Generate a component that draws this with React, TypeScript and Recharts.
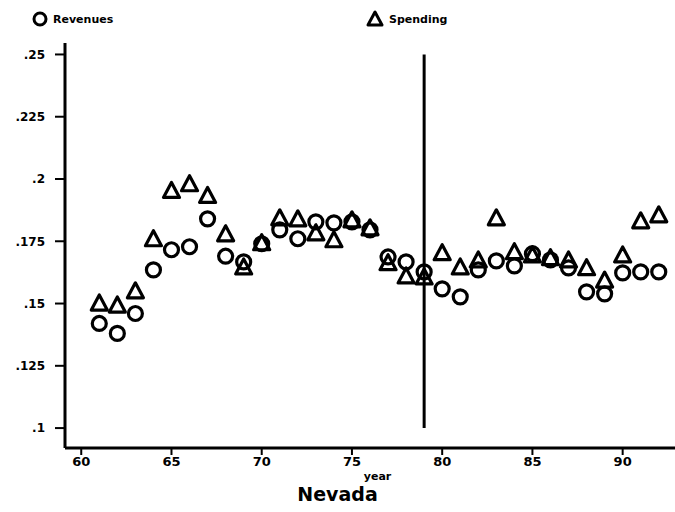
import { ScatterChart, Scatter, XAxis, YAxis, ReferenceLine } from 'recharts';

const years = [61, 62, 63, 64, 65, 66, 67, 68, 69, 70, 71, 72, 73, 74, 75, 76, 77, 78, 79, 80, 81, 82, 83, 84, 85, 86, 87, 88, 89, 90, 91, 92];
const revenues = [0.142, 0.138, 0.146, 0.1635, 0.1716, 0.1728, 0.184, 0.169, 0.1667, 0.174, 0.1796, 0.176, 0.1828, 0.1824, 0.1828, 0.1796, 0.1687, 0.1667, 0.1627, 0.1559, 0.1527, 0.1635, 0.1671, 0.1651, 0.17, 0.1675, 0.1643, 0.1547, 0.1539, 0.1623, 0.1627, 0.1627];
const spending = [0.1498, 0.149, 0.1547, 0.1756, 0.195, 0.1977, 0.193, 0.1776, 0.1643, 0.174, 0.184, 0.1836, 0.178, 0.1752, 0.1832, 0.18, 0.166, 0.1607, 0.1603, 0.17, 0.1643, 0.1671, 0.184, 0.1704, 0.1691, 0.168, 0.1671, 0.164, 0.159, 0.1691, 0.1828, 0.1852];
const xTicks = [60, 65, 70, 75, 80, 85, 90];
const yTicks = [0.1, 0.125, 0.15, 0.175, 0.2, 0.225, 0.25];
const breakYear = 79;

const revData = years.map((year, i) => ({ year, value: revenues[i] }));
const spendData = years.map((year, i) => ({ year, value: spending[i] }));

const font = '"DejaVu Sans", Arial, sans-serif';

const CircleMark = (props: any) => (
  <circle cx={props.cx} cy={props.cy} r={7} fill="none" stroke="#000" strokeWidth={3.2} />
);

const TriangleMark = (props: any) => {
  const { cx, cy } = props;
  return (
    <polygon
      points={`${cx},${cy - 9} ${cx - 8},${cy + 6} ${cx + 8},${cy + 6}`}
      fill="none"
      stroke="#000"
      strokeWidth={3.2}
      strokeLinejoin="round"
    />
  );
};

const fmt = (v: number) => String(v).replace(/^0/, '');

export default function App() {
  return (
    <div style={{ position: 'absolute', left: 0, top: 0, width: 675, height: 512, background: '#fff', fontFamily: font }}>
      <svg width={675} height={40} style={{ position: 'absolute', left: 0, top: 0 }}>
        <circle cx={40} cy={19} r={6} fill="none" stroke="#000" strokeWidth={3} />
        <text x={53} y={23} fontSize={11} fontWeight="bold" fontFamily={font}>Revenues</text>
        <polygon points="375,12 368,25 382,25" fill="none" stroke="#000" strokeWidth={3} strokeLinejoin="round" />
        <text x={389} y={23} fontSize={11} fontWeight="bold" fontFamily={font}>Spending</text>
      </svg>
      <ScatterChart width={675} height={512} margin={{ top: 43, right: 0, bottom: 0, left: 0 }}>
        <XAxis
          type="number"
          dataKey="year"
          domain={[59.1, 92.9]}
          ticks={xTicks}
          allowDataOverflow
          height={64}
          axisLine={{ stroke: '#000', strokeWidth: 3 }}
          tickLine={{ stroke: '#000', strokeWidth: 2 }}
          tickSize={7}
          tick={{ fill: '#000', fontSize: 13, fontWeight: 'bold', fontFamily: font }}
        />
        <YAxis
          type="number"
          dataKey="value"
          domain={[0.092, 0.2546]}
          ticks={yTicks}
          allowDataOverflow
          width={65}
          tickFormatter={fmt}
          axisLine={{ stroke: '#000', strokeWidth: 3 }}
          tickLine={{ stroke: '#000', strokeWidth: 2 }}
          tickSize={10}
          tickMargin={10}
          tick={{ fill: '#000', fontSize: 12, fontWeight: 'bold', fontFamily: font }}
        />
        <ReferenceLine
          segment={[{ x: breakYear, y: 0.1 }, { x: breakYear, y: 0.25 }]}
          stroke="#000"
          strokeWidth={3}
        />
        <Scatter name="Revenues" data={revData} shape={CircleMark} isAnimationActive={false} />
        <Scatter name="Spending" data={spendData} shape={TriangleMark} isAnimationActive={false} />
      </ScatterChart>
      <div style={{ position: 'absolute', left: 0, width: 675, top: 470, textAlign: 'center', fontSize: 11, fontWeight: 'bold', paddingLeft: 80, boxSizing: 'border-box' }}>
        year
      </div>
      <div style={{ position: 'absolute', left: 0, width: 675, top: 483, textAlign: 'center', fontSize: 19, fontWeight: 'bold' }}>
        Nevada
      </div>
    </div>
  );
}
